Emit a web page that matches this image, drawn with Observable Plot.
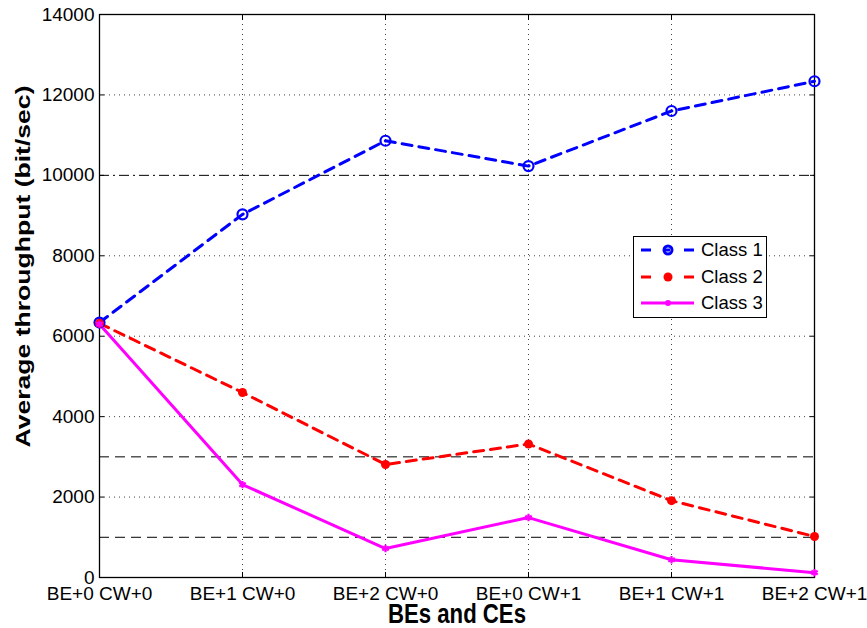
<!DOCTYPE html>
<html>
<head>
<meta charset="utf-8">
<script src="https://cdn.jsdelivr.net/npm/d3@7"></script>
<script src="https://cdn.jsdelivr.net/npm/@observablehq/plot@0.6"></script>
<style>
  body { margin: 0; background: #fff; font-family: "Liberation Sans", Arial, sans-serif; }
  #wrap { position: relative; width: 867px; height: 628px; }
  #legend { position: absolute; left: 633px; top: 236px; width: 134px; height: 82px;
            border: 1px solid #000; background: #fff; box-sizing: border-box; }
  #legend .row { position: absolute; left: 0; height: 24px; display: flex; align-items: center; white-space: nowrap; }
  #legend .row span { font-size: 18.5px; margin-left: 5px; color: #000; }
  #legend svg { display: block; }
</style>
</head>
<body>
<div id="wrap"><div id="legend"></div></div>
<script>
const categories = ["BE+0 CW+0", "BE+1 CW+0", "BE+2 CW+0", "BE+0 CW+1", "BE+1 CW+1", "BE+2 CW+1"];
const class1 = [6340, 9030, 10860, 10230, 11600, 12340];
const class2 = [6320, 4600, 2810, 3320, 1910, 1020];
const class3 = [6300, 2310, 720, 1490, 440, 120];
const yTicks = [0, 2000, 4000, 6000, 8000, 10000, 12000, 14000];
const dottedGrid = [2000, 4000, 6000, 8000, 12000];
const dashedRefs = [1000, 3000];
const dashDotRefs = [10000];
const seriesNames = ["Class 1", "Class 2", "Class 3"];
const seriesColors = ["#0000ff", "#ff0000", "#ff00ff"];

const rows = [];
[class1, class2, class3].forEach((vals, s) => {
  vals.forEach((v, i) => rows.push({series: seriesNames[s], cat: categories[i], value: v}));
});
const bySeries = name => rows.filter(d => d.series === name);

const chart = Plot.plot({
  width: 867,
  height: 628,
  marginLeft: 99,
  marginRight: 53,
  marginTop: 14,
  marginBottom: 51,
  style: {fontFamily: "Liberation Sans, Arial, sans-serif", fontSize: "19px", background: "#fff", color: "#000", overflow: "visible"},
  x: {type: "point", domain: categories, padding: 0},
  y: {domain: [0, 14000]},
  marks: [
    Plot.gridY(dottedGrid, {stroke: "#000", strokeOpacity: 0.75, strokeDasharray: "1,4"}),
    Plot.gridX(categories.slice(1, -1), {stroke: "#000", strokeOpacity: 0.75, strokeDasharray: "1,4"}),
    Plot.ruleY(dashedRefs, {stroke: "#000", strokeWidth: 1, strokeDasharray: "10,6"}),
    Plot.ruleY(dashDotRefs, {stroke: "#000", strokeWidth: 1, strokeDasharray: "10,4,2,4"}),
    Plot.frame({stroke: "#000", strokeWidth: 1.3}),
    Plot.axisY(yTicks, {anchor: "left", tickSize: -5, tickPadding: 10, label: null, tickFormat: d => String(d), fontSize: 19}),
    Plot.axisY(yTicks, {anchor: "right", tickSize: -5, tickFormat: () => "", label: null}),
    Plot.axisX(categories, {anchor: "bottom", tickSize: -5, tickPadding: 13.5, label: null, fontSize: 19}),
    Plot.axisX(categories, {anchor: "top", tickSize: -5, tickFormat: () => "", label: null}),
    Plot.text(["Average throughput (bit/sec)"], {frameAnchor: "left", dx: -76, dy: 151.5, rotate: -90, lineAnchor: "middle", textAnchor: "start", fontWeight: "bold", fontSize: 21, className: "ylab"}),
    Plot.text(["BEs and CEs"], {frameAnchor: "bottom", dy: 37, lineAnchor: "middle", fontWeight: "bold", fontSize: 27, className: "xlab"}),
    Plot.line(bySeries("Class 1"), {x: "cat", y: "value", stroke: seriesColors[0], strokeWidth: 3, strokeDasharray: "10,7"}),
    Plot.line(bySeries("Class 2"), {x: "cat", y: "value", stroke: seriesColors[1], strokeWidth: 3, strokeDasharray: "10,7"}),
    Plot.line(bySeries("Class 3"), {x: "cat", y: "value", stroke: seriesColors[2], strokeWidth: 3}),
    Plot.dot(bySeries("Class 1"), {x: "cat", y: "value", stroke: seriesColors[0], strokeWidth: 2.2, r: 5, fill: "none"}),
    Plot.dot(bySeries("Class 2"), {x: "cat", y: "value", fill: seriesColors[1], r: 4.5}),
    Plot.dot(bySeries("Class 3"), {x: "cat", y: "value", stroke: seriesColors[2], symbol: "asterisk", r: 3.5, strokeWidth: 2.2})
  ]
});
document.getElementById("wrap").prepend(chart);

// stretch bold labels along their length like the reference
d3.select(chart).selectAll(".ylab text").attr("textLength", 362).attr("lengthAdjust", "spacingAndGlyphs");
d3.select(chart).selectAll(".xlab text").attr("textLength", 138).attr("lengthAdjust", "spacingAndGlyphs");

// legend
const legend = document.getElementById("legend");
const legendGlyphs = [
  `<line x1="2" y1="12" x2="55" y2="12" stroke="${seriesColors[0]}" stroke-width="3" stroke-dasharray="10,14,5,14"/><circle cx="29" cy="12" r="4" fill="none" stroke="${seriesColors[0]}" stroke-width="3"/>`,
  `<line x1="2" y1="12" x2="55" y2="12" stroke="${seriesColors[1]}" stroke-width="3" stroke-dasharray="10,14,5,14"/><circle cx="29" cy="12" r="4.5" fill="${seriesColors[1]}"/>`,
  `<line x1="2" y1="12" x2="55" y2="12" stroke="${seriesColors[2]}" stroke-width="3"/><circle cx="29" cy="12" r="3" fill="${seriesColors[2]}"/>`
];
seriesNames.forEach((name, i) => {
  const row = document.createElement("div");
  row.className = "row";
  row.style.top = (1 + i * 26.5) + "px";
  row.innerHTML = `<svg width="57" height="24" style="margin-left:5px">${legendGlyphs[i]}</svg><span>${name}</span>`;
  legend.appendChild(row);
});
</script>
</body>
</html>
